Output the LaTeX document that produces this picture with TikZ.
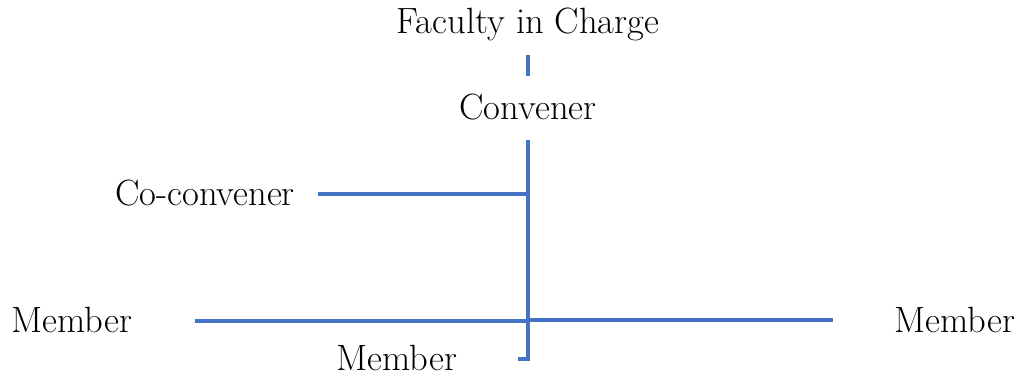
\documentclass[tikz,border=0pt]{standalone}
\usepackage{xcolor}
\definecolor{linkblue}{HTML}{4472C4}

\begin{document}
\begin{tikzpicture}[x=0.02cm,y=-0.02cm,
    role/.style={anchor=base,font=\fontsize{20.8}{25}\selectfont},
    link/.style={draw=linkblue,line width=1.8pt}]
    \useasboundingbox (0,0) rectangle (1019,379);

    % roles
    \node[role] (fic) at (528,33) {Faculty in Charge};
    \node[role] (conv) at (528,119) {Convener};
    \node[role] (coconv) at (205,205) {Co-convener};
    \node[role] (memL) at (72,332) {Member};
    \node[role] (memR) at (955,332) {Member};
    \node[role] (memB) at (397,370) {Member};

    % line ends
    \coordinate (upA) at (528,55);
    \coordinate (upB) at (528,76);
    \coordinate (top) at (528,140);
    \coordinate (bot) at (528,359);
    \coordinate (tick) at (518,359);
    \coordinate (co) at (318,194);
    \coordinate (coT) at (528,194);
    \coordinate (lEnd) at (195,321);
    \coordinate (lT) at (528,321);
    \coordinate (rT) at (528,320);
    \coordinate (rEnd) at (833,320);

    \draw[link] (upA) -- (upB); %fic-conv
    \draw[link] (top) -- (bot) -- (tick); %trunk
    \draw[link] (co) -- (coT); %co-convener
    \draw[link] (lEnd) -- (lT); %left member
    \draw[link] (rT) -- (rEnd); %right member
\end{tikzpicture}
\end{document}
